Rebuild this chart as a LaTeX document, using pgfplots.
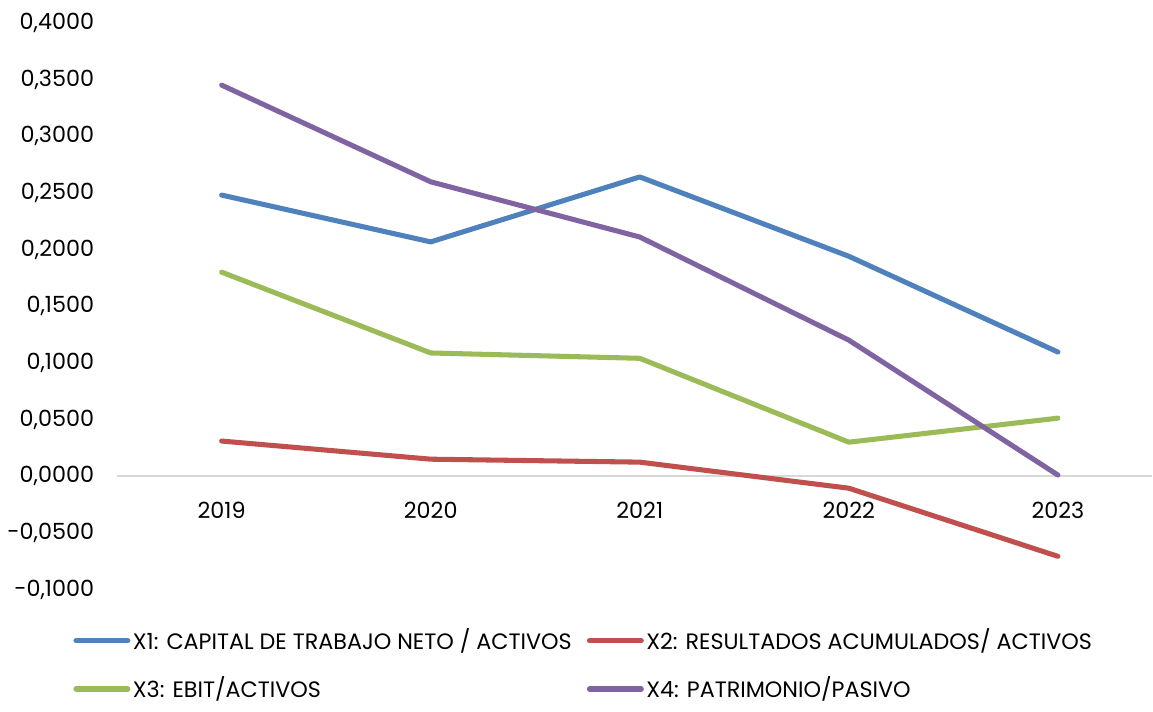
\documentclass[border=0pt]{standalone}
\usepackage{fontspec}
\setmainfont{Poppins}
\usepackage{pgfplots}
\pgfplotsset{compat=1.18}

\definecolor{cX1}{HTML}{4F81BD}
\definecolor{cX2}{HTML}{C0504D}
\definecolor{cX3}{HTML}{9BBB59}
\definecolor{cX4}{HTML}{8064A2}

\begin{document}
\fontsize{8.8}{10}\selectfont
\begin{tikzpicture}
\begin{axis}[
    scale only axis,
    width=409pt,
    height=224pt,
    xmin=-0.5, xmax=4.45,
    ymin=-0.1, ymax=0.4,
    axis x line=middle,
    axis y line=left,
    x axis line style={draw=black!15, line width=0.8pt, -},
    y axis line style={draw=none},
    xtick={0,1,2,3,4},
    xticklabels={2019,2020,2021,2022,2023},
    ytick={-0.1,-0.05,0,0.05,0.1,0.15,0.2,0.25,0.3,0.35,0.4},
    major tick length=0pt,
    xticklabel style={yshift=-7pt},
    yticklabel style={xshift=-6pt},
    /pgf/number format/assume math mode=true,
    yticklabel={\pgfmathprintnumber[fixed,fixed zerofill,precision=4,use comma]{\tick}},
    every tick label/.append style={font=\fontsize{8.8}{10}\selectfont},
    legend columns=2,
    legend cell align=left,
    legend style={draw=none, at={(-0.05,-0.05)}, anchor=north west,
        font=\fontsize{8.8}{10}\selectfont, row sep=5.5pt,
        nodes={inner xsep=1pt},
        /tikz/every even column/.append style={column sep=5pt}},
    legend image code/.code={\draw[line width=2pt, line cap=round] (0cm,0cm) -- (0.72cm,0cm);},
    every axis plot/.append style={line width=2pt, line cap=round, line join=round, mark=none},
    after end axis/.code={\path (rel axis cs:0,1) ++(0,9pt);},
]
\addplot[cX1] coordinates {(0,0.2480) (1,0.2067) (2,0.2640) (3,0.1940) (4,0.1095)};
\addlegendentry{X1: CAPITAL DE TRABAJO NETO / ACTIVOS}
\addplot[cX2] coordinates {(0,0.0310) (1,0.0150) (2,0.0124) (3,-0.0106) (4,-0.0707)};
\addlegendentry{X2: RESULTADOS ACUMULADOS/ ACTIVOS}
\addplot[cX3] coordinates {(0,0.1800) (1,0.1087) (2,0.1040) (3,0.0300) (4,0.0512)};
\addlegendentry{X3: EBIT/ACTIVOS}
\addplot[cX4] coordinates {(0,0.3450) (1,0.2597) (2,0.2110) (3,0.1200) (4,0.0010)};
\addlegendentry{X4: PATRIMONIO/PASIVO}
\end{axis}
\end{tikzpicture}
\end{document}
